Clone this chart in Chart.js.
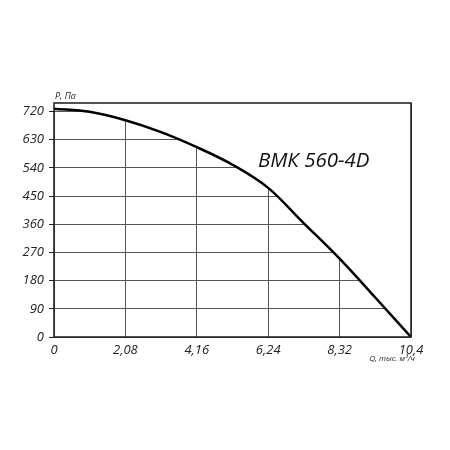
<!DOCTYPE html>
<html>
<head>
<meta charset="utf-8">
<script src="https://cdn.jsdelivr.net/npm/chart.js@4.4.0/dist/chart.umd.min.js"></script>
<style>
  html, body { margin: 0; padding: 0; background: #fff; }
  #wrap { width: 450px; height: 450px; }
</style>
</head>
<body>
<div id="wrap"><canvas id="fanChart"></canvas></div>
<script>
// Fan curve: Q (thousand m3/h) vs P (Pa)
const flowQ = [0, 1.04, 2.08, 3.12, 4.16, 5.2, 6.24, 7.28, 8.32, 9.36, 10.4];
const pressureP = [729, 719, 692, 654, 606, 550, 476, 363, 250, 126, 0];

const xTicks = [0, 2.08, 4.16, 6.24, 8.32, 10.4];
const yTicks = [0, 90, 180, 270, 360, 450, 540, 630, 720];

const modelName = "ВМК 560-4D";
const yTitle = "P, Па";
const xTitle = "Q, тыс. м³/ч";

const tickFont = { family: "Open Sans", size: 13, style: "italic" };

function fmt(v) {
    return String(v).replace(".", ",");
}

// frame + texts on top of everything
const framePlugin = {
    id: "frame",
    afterDatasetsDraw(chart) {
        const ctx = chart.ctx;
        const a = chart.chartArea;
        const x = chart.scales.x;
        const y = chart.scales.y;
        ctx.save();
        ctx.strokeStyle = "#1a1a1a";
        ctx.lineWidth = 1.5;
        ctx.strokeRect(a.left, a.top, a.right - a.left, a.bottom - a.top);

        ctx.fillStyle = "#222";
        ctx.font = "italic 9px 'Open Sans'";
        ctx.textAlign = "left";
        ctx.textBaseline = "bottom";
        ctx.fillText(yTitle, a.left + 1, a.top - 2);

        ctx.font = "italic 8px 'Open Sans'";
        ctx.textAlign = "right";
        ctx.textBaseline = "top";
        ctx.fillText(xTitle, a.right + 4, a.bottom + 18);

        ctx.fillStyle = "#111";
        ctx.font = "italic 20.5px 'Open Sans'";
        ctx.textAlign = "left";
        ctx.textBaseline = "alphabetic";
        ctx.fillText(modelName, x.getPixelForValue(5.94), y.getPixelForValue(543));
        ctx.restore();
    }
};

new Chart(document.getElementById("fanChart"), {
    type: "line",
    data: {
        datasets: [{
            data: flowQ.map((q, i) => ({ x: q, y: pressureP[i] })),
            borderColor: "#000",
            borderWidth: 2.5,
            pointRadius: 0,
            cubicInterpolationMode: "monotone",
            fill: "end",
            backgroundColor: "#fff"
        }]
    },
    options: {
        responsive: true,
        maintainAspectRatio: false,
        animation: false,
        layout: { padding: { left: 0, right: 39, top: 103, bottom: 73 } },
        plugins: {
            legend: { display: false },
            tooltip: { enabled: false }
        },
        scales: {
            x: {
                type: "linear",
                min: 0,
                max: 10.4,
                afterBuildTicks: (s) => { s.ticks = xTicks.map(v => ({ value: v })); },
                afterFit: (s) => { s.height = 40; },
                border: { display: false },
                grid: { color: "#555", lineWidth: 1, drawTicks: false },
                ticks: {
                    font: tickFont,
                    color: "#222",
                    padding: 5,
                    maxRotation: 0,
                    autoSkip: false,
                    callback: (v) => fmt(v)
                }
            },
            y: {
                min: 0,
                max: 747,
                afterBuildTicks: (s) => { s.ticks = yTicks.map(v => ({ value: v })); },
                afterFit: (s) => { s.width = 54; },
                border: { display: false },
                grid: { color: "#555", lineWidth: 1, drawTicks: true, tickLength: 5, tickColor: "#222" },
                ticks: {
                    font: tickFont,
                    color: "#222",
                    padding: 5,
                    callback: (v) => fmt(v)
                }
            }
        }
    },
    plugins: [framePlugin]
});
</script>
</body>
</html>
